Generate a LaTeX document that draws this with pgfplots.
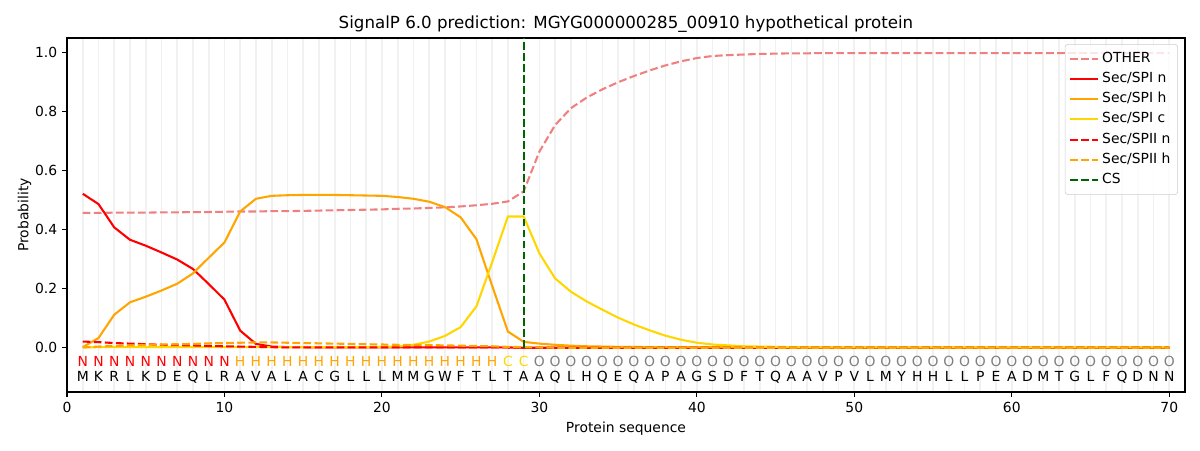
\documentclass[border=0pt]{standalone}
\usepackage{pgfplots}
\pgfplotsset{compat=1.18}
\usepackage{fontspec}
\setmainfont{DejaVu Sans}
\definecolor{lcoral}{HTML}{F08080}
\definecolor{mplorange}{HTML}{FFA500}
\definecolor{mplgold}{HTML}{FFD700}
\definecolor{mplgreen}{HTML}{006400}
\definecolor{gridc}{HTML}{F1F1F1}
\begin{document}
\begin{tikzpicture}
\begin{axis}[
  scale only axis,
  width=804.96pt, height=254.88pt,
  xmin=0, xmax=71, ymin=-0.15, ymax=1.05,
  xtick={0,10,...,70},
  ytick={0,0.2,...,1.0},
  minor xtick={1,...,70},
  xminorgrids,
  minor grid style={gridc, line width=1.2pt},
  minor tick length=0pt,
  tick align=outside,
  major tick length=3.5pt,
  every tick/.style={black, line width=0.8pt},
  axis line style={line width=0.8pt},
  xtick pos=bottom, ytick pos=left,
  /pgf/number format/assume math mode=true,
  yticklabel style={/pgf/number format/.cd, fixed, fixed zerofill, precision=1},
  tick label style={font=\fontsize{10}{12}\selectfont},
  title={SignalP 6.0 prediction: MGYG000000285\_00910 hypothetical protein},
  title style={font=\fontsize{12}{14}\selectfont, at={(axis description cs:0.5,1)}, anchor=base, inner sep=0pt, yshift=0.6pt},
  xlabel={Protein sequence},
  xlabel style={at={(axis description cs:0.5,-0.115)}, anchor=base, inner sep=0pt},
  ylabel={Probability},
  ylabel style={at={(axis description cs:-0.0345,0.5)}, anchor=base, rotate=0, inner sep=0pt},
  legend style={at={(0.9937,0.983)}, anchor=north east, draw=black!20, rounded corners=2pt,
    fill=white, fill opacity=0.8, text opacity=1, font=\fontsize{10}{12}\selectfont,
    inner sep=3pt, row sep=0pt,
    nodes={inner sep=2.2pt, text height=7.6pt, text depth=2.6pt, anchor=west}},
  legend cell align=left,
  legend image code/.code={\draw[#1] (0pt,0pt) -- (20pt,0pt);},
  every axis plot/.append style={line width=1.5pt},
]
\pgfplotstableread{
x other spin spih spic spiin spiih
1 0.457 0.522 0.002 0.001 0.021 0.001
2 0.457 0.487 0.033 0.002 0.019 0.004
3 0.458 0.408 0.112 0.002 0.016 0.006
4 0.458 0.366 0.154 0.002 0.014 0.008
5 0.458 0.346 0.173 0.002 0.012 0.010
6 0.459 0.323 0.194 0.002 0.010 0.011
7 0.459 0.299 0.217 0.002 0.009 0.012
8 0.460 0.267 0.252 0.002 0.008 0.013
9 0.460 0.216 0.305 0.002 0.006 0.015
10 0.461 0.163 0.357 0.002 0.005 0.016
11 0.462 0.058 0.462 0.002 0.004 0.017
12 0.462 0.013 0.505 0.002 0.003 0.018
13 0.463 0.004 0.515 0.002 0.002 0.018
14 0.463 0.002 0.517 0.002 0.001 0.017
15 0.464 0.002 0.518 0.002 0.001 0.016
16 0.465 0.001 0.518 0.002 0.001 0.015
17 0.466 0.001 0.518 0.002 0.001 0.014
18 0.467 0.001 0.517 0.002 0.001 0.013
19 0.468 0.001 0.516 0.002 0.001 0.012
20 0.469 0.001 0.515 0.003 0.001 0.011
21 0.471 0.001 0.511 0.004 0.001 0.010
22 0.472 0.001 0.505 0.010 0.001 0.010
23 0.474 0.001 0.495 0.021 0.001 0.009
24 0.476 0.001 0.477 0.040 0.001 0.008
25 0.479 0.001 0.442 0.070 0.001 0.007
26 0.483 0.001 0.368 0.140 0.001 0.006
27 0.488 0.001 0.210 0.290 0.001 0.005
28 0.496 0.001 0.055 0.445 0.001 0.003
29 0.530 0.000 0.020 0.445 0.000 0.002
30 0.665 0.000 0.014 0.320 0.000 0.001
31 0.755 0.000 0.010 0.235 0.000 0.000
32 0.812 0.000 0.007 0.190 0.000 0.000
33 0.848 0.000 0.005 0.157 0.000 0.000
34 0.876 0.000 0.004 0.129 0.000 0.000
35 0.900 0.000 0.003 0.102 0.000 0.000
36 0.921 0.000 0.003 0.079 0.000 0.000
37 0.940 0.000 0.002 0.059 0.000 0.000
38 0.957 0.000 0.002 0.041 0.000 0.000
39 0.971 0.000 0.002 0.027 0.000 0.000
40 0.982 0.000 0.002 0.017 0.000 0.000
41 0.989 0.000 0.002 0.011 0.000 0.000
42 0.992 0.000 0.002 0.008 0.000 0.000
43 0.994 0.000 0.002 0.005 0.000 0.000
44 0.996 0.000 0.002 0.004 0.000 0.000
45 0.997 0.000 0.002 0.003 0.000 0.000
46 0.998 0.000 0.001 0.002 0.000 0.000
47 0.998 0.000 0.001 0.001 0.000 0.000
48 0.999 0.000 0.001 0.001 0.000 0.000
49 0.999 0.000 0.001 0.001 0.000 0.000
50 0.999 0.000 0.001 0.001 0.000 0.000
51 0.999 0.000 0.001 0.001 0.000 0.000
52 0.999 0.000 0.001 0.001 0.000 0.000
53 0.999 0.000 0.001 0.001 0.000 0.000
54 0.999 0.000 0.001 0.001 0.000 0.000
55 0.999 0.000 0.001 0.001 0.000 0.000
56 0.999 0.000 0.001 0.001 0.000 0.000
57 0.999 0.000 0.001 0.001 0.000 0.000
58 0.999 0.000 0.001 0.001 0.000 0.000
59 0.999 0.000 0.001 0.001 0.000 0.000
60 0.999 0.000 0.001 0.001 0.000 0.000
61 0.999 0.000 0.001 0.001 0.000 0.000
62 0.999 0.000 0.001 0.001 0.000 0.000
63 0.999 0.000 0.001 0.001 0.000 0.000
64 0.999 0.000 0.001 0.001 0.000 0.000
65 0.999 0.000 0.001 0.001 0.000 0.000
66 0.999 0.000 0.001 0.001 0.000 0.000
67 0.999 0.000 0.001 0.001 0.000 0.000
68 0.999 0.000 0.001 0.001 0.000 0.000
69 0.999 0.000 0.001 0.001 0.000 0.000
70 0.999 0.000 0.001 0.001 0.000 0.000
}\probs
\addplot[lcoral, dash pattern=on 5.55pt off 2.4pt] table[x=x, y=other] {\probs};
\addlegendentry{OTHER}
\addplot[red] table[x=x, y=spin] {\probs};
\addlegendentry{Sec/SPI n}
\addplot[mplorange] table[x=x, y=spih] {\probs};
\addlegendentry{Sec/SPI h}
\addplot[mplgold] table[x=x, y=spic] {\probs};
\addlegendentry{Sec/SPI c}
\addplot[red, dash pattern=on 5.55pt off 2.4pt] table[x=x, y=spiin] {\probs};
\addlegendentry{Sec/SPII n}
\addplot[mplorange, dash pattern=on 5.55pt off 2.4pt] table[x=x, y=spiih] {\probs};
\addlegendentry{Sec/SPII h}
\addplot[mplgreen, dash pattern=on 5.55pt off 2.4pt] coordinates {(29,0) (29,1.05)};
\addlegendentry{CS}
% region labels
\pgfplotsset{lettersty/.style={forget plot, draw=none, mark=none, point meta=explicit symbolic,
  nodes near coords, nodes near coords style={anchor=base, inner sep=0pt, text=#1, font=\fontsize{10}{12}\selectfont}}}
\addplot[lettersty=red] coordinates {(1,-0.064)[N] (2,-0.064)[N] (3,-0.064)[N] (4,-0.064)[N] (5,-0.064)[N] (6,-0.064)[N] (7,-0.064)[N] (8,-0.064)[N] (9,-0.064)[N] (10,-0.064)[N]};
\addplot[lettersty=mplorange] coordinates {(11,-0.064)[H] (12,-0.064)[H] (13,-0.064)[H] (14,-0.064)[H] (15,-0.064)[H] (16,-0.064)[H] (17,-0.064)[H] (18,-0.064)[H] (19,-0.064)[H] (20,-0.064)[H] (21,-0.064)[H] (22,-0.064)[H] (23,-0.064)[H] (24,-0.064)[H] (25,-0.064)[H] (26,-0.064)[H] (27,-0.064)[H]};
\addplot[lettersty=mplgold] coordinates {(28,-0.064)[C] (29,-0.064)[C]};
\addplot[lettersty=gray] coordinates {(30,-0.064)[O] (31,-0.064)[O] (32,-0.064)[O] (33,-0.064)[O] (34,-0.064)[O] (35,-0.064)[O] (36,-0.064)[O] (37,-0.064)[O] (38,-0.064)[O] (39,-0.064)[O] (40,-0.064)[O] (41,-0.064)[O] (42,-0.064)[O] (43,-0.064)[O] (44,-0.064)[O] (45,-0.064)[O] (46,-0.064)[O] (47,-0.064)[O] (48,-0.064)[O] (49,-0.064)[O] (50,-0.064)[O] (51,-0.064)[O] (52,-0.064)[O] (53,-0.064)[O] (54,-0.064)[O] (55,-0.064)[O] (56,-0.064)[O] (57,-0.064)[O] (58,-0.064)[O] (59,-0.064)[O] (60,-0.064)[O] (61,-0.064)[O] (62,-0.064)[O] (63,-0.064)[O] (64,-0.064)[O] (65,-0.064)[O] (66,-0.064)[O] (67,-0.064)[O] (68,-0.064)[O] (69,-0.064)[O] (70,-0.064)[O]};
% sequence
\addplot[lettersty=black] coordinates {(1,-0.115)[M] (2,-0.115)[K] (3,-0.115)[R] (4,-0.115)[L] (5,-0.115)[K] (6,-0.115)[D] (7,-0.115)[E] (8,-0.115)[Q] (9,-0.115)[L] (10,-0.115)[R] (11,-0.115)[A] (12,-0.115)[V] (13,-0.115)[A] (14,-0.115)[L] (15,-0.115)[A] (16,-0.115)[C] (17,-0.115)[G] (18,-0.115)[L] (19,-0.115)[L] (20,-0.115)[L] (21,-0.115)[M] (22,-0.115)[M] (23,-0.115)[G] (24,-0.115)[W] (25,-0.115)[F] (26,-0.115)[T] (27,-0.115)[L] (28,-0.115)[T] (29,-0.115)[A] (30,-0.115)[A] (31,-0.115)[Q] (32,-0.115)[L] (33,-0.115)[H] (34,-0.115)[Q] (35,-0.115)[E] (36,-0.115)[Q] (37,-0.115)[A] (38,-0.115)[P] (39,-0.115)[A] (40,-0.115)[G] (41,-0.115)[S] (42,-0.115)[D] (43,-0.115)[F] (44,-0.115)[T] (45,-0.115)[Q] (46,-0.115)[A] (47,-0.115)[A] (48,-0.115)[V] (49,-0.115)[P] (50,-0.115)[V] (51,-0.115)[L] (52,-0.115)[M] (53,-0.115)[Y] (54,-0.115)[H] (55,-0.115)[H] (56,-0.115)[L] (57,-0.115)[L] (58,-0.115)[P] (59,-0.115)[E] (60,-0.115)[A] (61,-0.115)[D] (62,-0.115)[M] (63,-0.115)[T] (64,-0.115)[G] (65,-0.115)[L] (66,-0.115)[F] (67,-0.115)[Q] (68,-0.115)[D] (69,-0.115)[N] (70,-0.115)[N]};
\end{axis}
\pgfresetboundingbox
\useasboundingbox (-48.24pt,-41.76pt) rectangle (815.76pt,282.24pt);
\end{tikzpicture}
\end{document}
